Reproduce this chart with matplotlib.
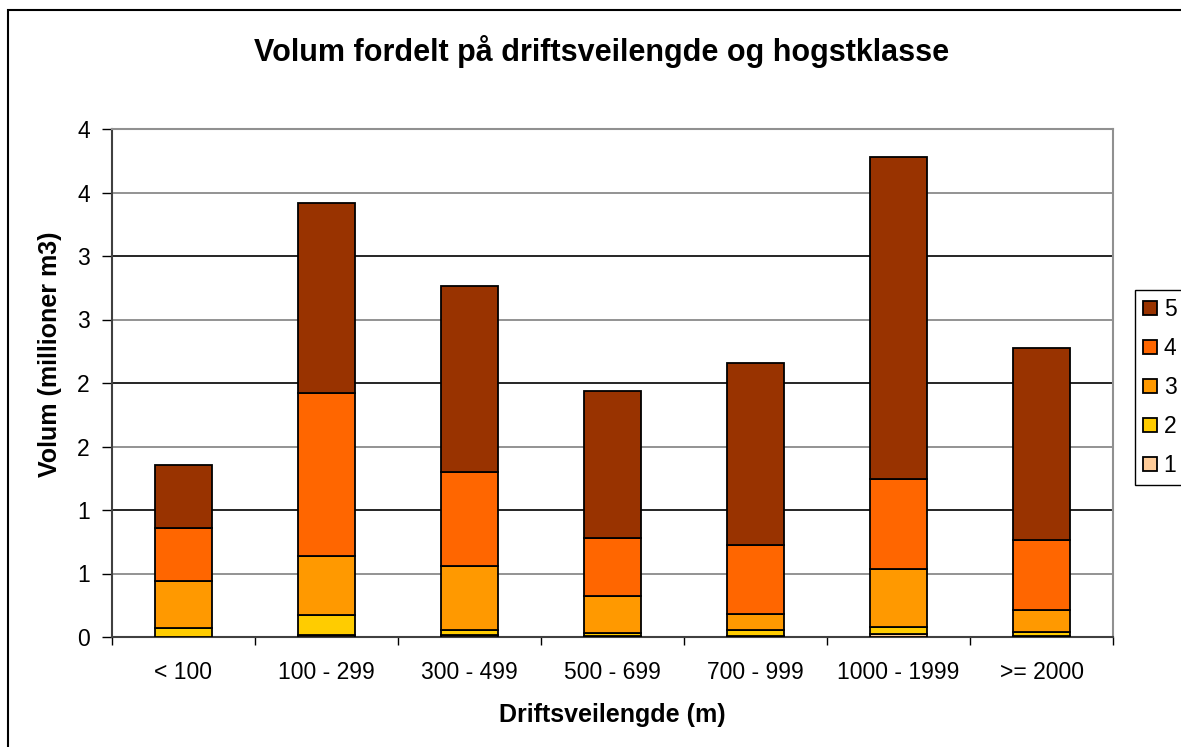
import matplotlib.pyplot as plt
import numpy as np
from matplotlib.patches import Rectangle
from matplotlib.ticker import FixedFormatter, FixedLocator

plt.rcParams['font.family'] = ['Liberation Sans', 'DejaVu Sans']

# data (millioner m3)
kategorier = ["< 100", "100 - 299", "300 - 499", "500 - 699", "700 - 999", "1000 - 1999", ">= 2000"]
klasser = ["1", "2", "3", "4", "5"]
hk1 = [0.003, 0.016, 0.015, 0.005, 0.005, 0.020, 0.005]
hk2 = [0.070, 0.157, 0.042, 0.029, 0.050, 0.056, 0.037]
hk3 = [0.368, 0.467, 0.504, 0.291, 0.126, 0.457, 0.171]
hk4 = [0.417, 1.281, 0.738, 0.457, 0.543, 0.708, 0.551]
hk5 = [0.496, 1.496, 1.465, 1.155, 1.436, 2.539, 1.509]
y_ticks = [0, 0.5, 1, 1.5, 2, 2.5, 3, 3.5, 4]
y_tick_labels = ["0", "1", "1", "2", "2", "3", "3", "4", "4"]  # excel avrunding

farger = ["#FFCC99", "#FFCC00", "#FF9900", "#FF6600", "#993300"]
serier = [hk1, hk2, hk3, hk4, hk5]

fig = plt.figure(figsize=(11.81, 7.47), dpi=100)
ax = fig.add_axes([112 / 1181, 1 - 637 / 747, (1113 - 112) / 1181, (637 - 129) / 747])

# ramme rundt hele diagrammet (høyre og nedre kant utenfor bildet)
fig.patches.append(Rectangle((8 / 1181, -0.5), 2, 1.5 - 10 / 747, transform=fig.transFigure,
                             fill=False, edgecolor="black", linewidth=1.5))

x = np.arange(len(kategorier))
bunn = np.zeros(len(kategorier))
for verdier, farge, navn in zip(serier, farger, klasser):
    ax.bar(x, verdier, 0.4, bottom=bunn, color=farge, edgecolor="black",
           linewidth=1.3, label=navn, zorder=3)
    bunn += np.array(verdier)

ax.set_xlim(-0.5, len(kategorier) - 0.5)
ax.set_ylim(0, 4)
ax.yaxis.set_major_locator(FixedLocator(y_ticks))
ax.yaxis.set_major_formatter(FixedFormatter(y_tick_labels))
ax.set_xticks(x)
ax.set_xticklabels(kategorier)
ax.tick_params(axis="x", length=0, labelsize=16.5, pad=17)
ax.xaxis.set_minor_locator(FixedLocator(np.arange(-0.5, len(kategorier), 1)))
ax.tick_params(axis="x", which="minor", length=6, width=1, color="black")
ax.tick_params(axis="y", length=7, width=1, labelsize=16.5, pad=9)

for yv in y_ticks:
    ax.axhline(yv, color="black" if yv % 1 == 0 else "#808080", linewidth=1.2, zorder=1)

for s in ["top", "right"]:
    ax.spines[s].set_color("#909090")
    ax.spines[s].set_linewidth(1.5)
for s in ["left", "bottom"]:
    ax.spines[s].set_color("#404040")
    ax.spines[s].set_linewidth(1.5)

fig.text(602 / 1181, 1 - 52 / 747, "Volum fordelt på driftsveilengde og hogstklasse",
         fontsize=22, fontweight="bold", ha="center", va="center")
ax.set_xlabel("Driftsveilengde (m)", fontsize=18, fontweight="bold", labelpad=14)
ax.set_ylabel("Volum (millioner m3)", fontsize=18, fontweight="bold")
ax.yaxis.set_label_coords(-50 / 1001, (637 - 354) / 508)

h, l = ax.get_legend_handles_labels()
leg = fig.legend(h[::-1], l[::-1], loc="upper left",
                 bbox_to_anchor=(1135 / 1181, 1 - 290 / 747), borderaxespad=0,
                 fontsize=16.5, handlelength=0.6, handleheight=0.6, handletextpad=0.3,
                 labelspacing=0.7, fancybox=False, edgecolor="black",
                 borderpad=0.35, framealpha=1)
leg.get_frame().set_linewidth(1)

fig.savefig("out.png", dpi=100)
